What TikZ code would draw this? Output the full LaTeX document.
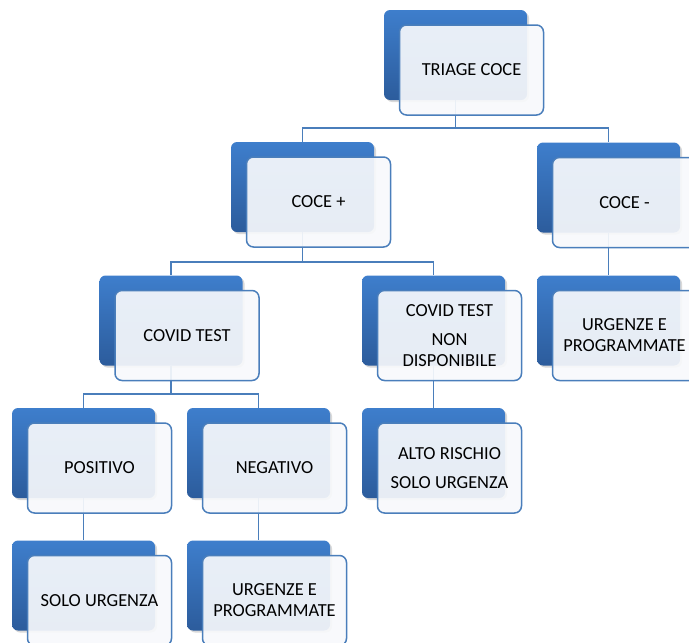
\documentclass[tikz,border=0pt]{standalone}
\usepackage{fontspec}
\setmainfont{Carlito}
\usetikzlibrary{backgrounds,shadows}

\definecolor{boxblue}{RGB}{62,126,204}
\definecolor{boxdark}{RGB}{44,92,156}
\definecolor{linkblue}{RGB}{74,126,187}
\definecolor{cardfill}{RGB}{247,249,252}

\tikzset{
  back/.style={rectangle, rounded corners=6pt, minimum width=143pt, minimum height=90pt,
    inner sep=0pt, top color=boxblue, bottom color=boxdark,
    drop shadow={opacity=0.3, shadow xshift=2pt, shadow yshift=-2pt}},
  card/.style={rectangle, rounded corners=7pt, draw=linkblue, line width=1.5pt,
    fill=cardfill, fill opacity=0.92, text opacity=1, minimum width=144pt,
    minimum height=90pt, inner sep=0pt, align=center, text=black,
    font=\fontsize{18.4}{21}\selectfont},
  link/.style={draw=linkblue, line width=1.8pt}
}

\begin{document}
\begin{tikzpicture}[x=1pt,y=-1pt]
    \useasboundingbox (0,0) rectangle (689,643);
    \clip (0,0) rectangle (689,643);

    % level 1
    \node[back] (triageb) at (455.5,55) {};
    \node[card] (triage) at (471.5,70) {TRIAGE COCE};

    % level 2
    \node[back] (cocepb) at (302.5,187) {};
    \node[card] (cocep) at (318.5,202) {COCE +};
    \node[back] (cocemb) at (608.5,187.5) {};
    \node[card] (cocem) at (624.5,202.5) {COCE -};

    % level 3
    \node[back] (covidb) at (171,320.5) {};
    \node[card] (covid) at (187,335.5) {COVID TEST};
    \node[back] (nondispb) at (433.5,320.5) {};
    \node[card] (nondisp) at (449.5,335.5) {COVID TEST\\[8pt]NON\\DISPONIBILE};
    \node[back] (urgprogb) at (608.5,320.5) {};
    \node[card] (urgprog) at (624.5,335.5) {URGENZE E\\PROGRAMMATE};

    % level 4
    \node[back] (positivob) at (83.5,453) {};
    \node[card] (positivo) at (99.5,468) {POSITIVO};
    \node[back] (negativob) at (258.5,453) {};
    \node[card] (negativo) at (274.5,468) {NEGATIVO};
    \node[back] (altob) at (433.5,453) {};
    \node[card] (alto) at (449.5,468) {ALTO RISCHIO\\[8pt]SOLO URGENZA};

    % level 5
    \node[back] (solob) at (83.5,585.5) {};
    \node[card] (solo) at (99.5,600.5) {SOLO URGENZA};
    \node[back] (urgprogbb) at (258.5,585.5) {};
    \node[card] (urgprogtwo) at (274.5,600.5) {URGENZE E\\PROGRAMMATE};

    % connectors
    \begin{scope}[on background layer]
        \draw[link] (triageb.south) -- ++(0,28) -| (cocepb.north);
        \draw[link] (triageb.south) -- ++(0,28) -| (cocemb.north);
        \draw[link] (cocepb.south) -- ++(0,30) -| (covidb.north);
        \draw[link] (cocepb.south) -- ++(0,30) -| (nondispb.north);
        \draw[link] (cocemb.south) -- (urgprogb.north);
        \draw[link] (covidb.south) -- ++(0,28) -| (positivob.north);
        \draw[link] (covidb.south) -- ++(0,28) -| (negativob.north);
        \draw[link] (nondispb.south) -- (altob.north);
        \draw[link] (positivob.south) -- (solob.north);
        \draw[link] (negativob.south) -- (urgprogbb.north);
    \end{scope}
\end{tikzpicture}
\end{document}
